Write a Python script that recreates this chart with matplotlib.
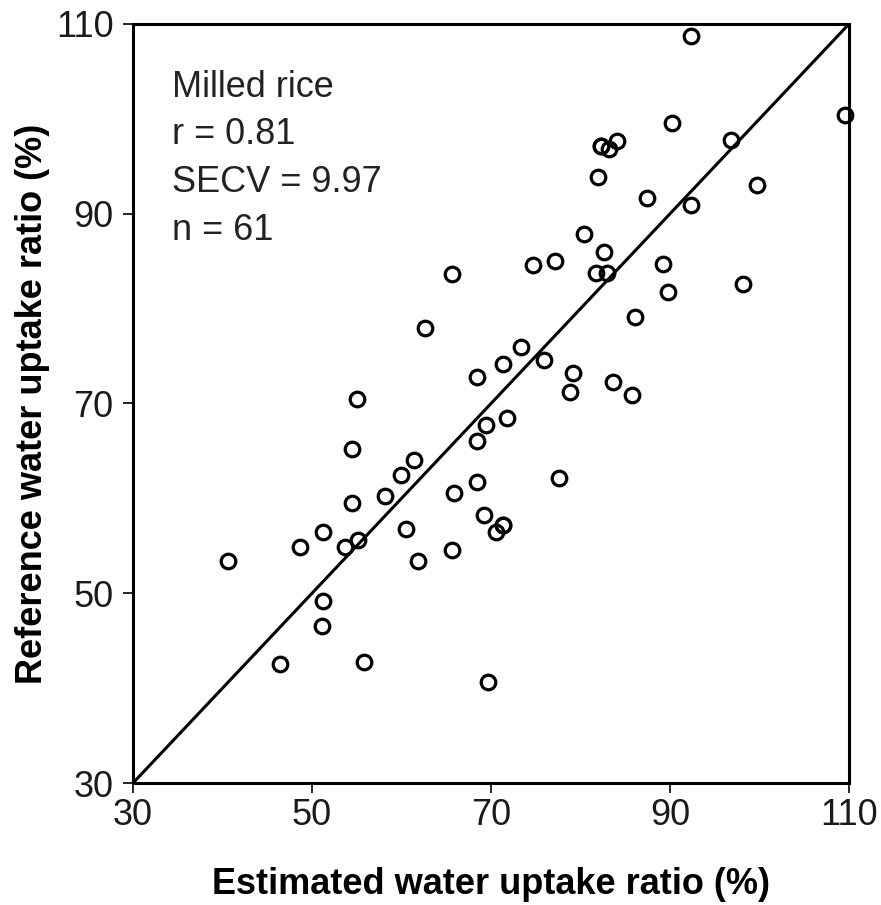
#!/usr/bin/env python3
#
# Scatter of estimated vs reference water uptake ratio for milled rice,
# with the 1:1 line.
#
import matplotlib
matplotlib.use('Agg')
import matplotlib.pyplot as plt

plt.rcParams['font.family'] = ['Liberation Sans', 'DejaVu Sans']

# Estimated (x) and reference (y) water uptake ratio, %
# (two samples sit exactly on top of others, hence n = 61)
estimated = [
    40.6, 46.4, 48.7, 51.2, 51.2, 51.1, 53.7, 54.5, 54.5, 55.0,
    55.1, 55.8, 58.1, 59.9, 60.5, 61.8, 61.4, 65.6, 65.9, 68.4,
    68.4, 69.4, 69.2, 69.7, 71.8, 77.6, 71.3, 70.6, 65.6, 62.6,
    68.4, 71.3, 73.4, 75.9, 79.2, 78.8, 83.6, 85.7, 86.1, 89.8,
    98.1, 89.2, 81.7, 83.0, 74.7, 77.2, 82.6, 80.4, 92.3, 87.4,
    99.7, 82.0, 82.3, 83.2, 84.1, 96.8, 90.2, 92.3, 109.6, 82.3,
    71.3,
]
reference = [
    53.4, 42.5, 54.9, 56.5, 49.2, 46.6, 54.9, 59.5, 65.2, 70.5,
    55.6, 42.8, 60.2, 62.5, 56.8, 53.4, 64.0, 54.6, 60.6, 61.7,
    66.0, 67.7, 58.2, 40.6, 68.5, 62.1, 57.2, 56.5, 83.7, 78.0,
    72.8, 74.2, 76.0, 74.6, 73.2, 71.2, 72.3, 70.9, 79.1, 81.8,
    82.6, 84.7, 83.8, 83.8, 84.6, 85.0, 86.0, 87.9, 90.9, 91.7,
    93.0, 93.9, 97.1, 96.8, 97.7, 97.8, 99.6, 108.7, 100.4, 97.1,
    57.2,
]

ticks = [30, 50, 70, 90, 110]
lo, hi = 30, 110

stats = 'Milled rice\nr = 0.81\nSECV = 9.97\nn = 61'

fig = plt.figure(figsize=(8.81, 9.05), dpi=100)
ax = fig.add_axes([0.151, 0.1348, 0.8127, 0.8387])

ax.plot([lo, hi], [lo, hi], color='black', linewidth=2.2, zorder=2)
ax.plot(estimated, reference, linestyle='none', marker='o', markersize=10.5,
        markerfacecolor='none', markeredgecolor='black',
        markeredgewidth=2.3, zorder=3, clip_on=False)

ax.set_xlim(lo, hi)
ax.set_ylim(lo, hi)
ax.set_xticks(ticks)
ax.set_yticks(ticks)
ax.tick_params(direction='out', length=7, width=1.2, labelsize=26,
               colors='black', labelcolor='#1a1a1a')
ax.tick_params(axis='y', pad=7)
ax.tick_params(axis='x', pad=4)

for side in ax.spines.values():
    side.set_linewidth(2.2)

ax.set_xlabel('Estimated water uptake ratio (%)', fontsize=26,
              fontweight='bold', labelpad=24)
ax.set_ylabel('Reference water uptake ratio (%)', fontsize=26,
              fontweight='bold', labelpad=4)

ax.text(0.054, 0.94, stats, transform=ax.transAxes, fontsize=26,
        color='#222222', va='top', ha='left', linespacing=1.48)

plt.savefig('out.png', dpi=100)
plt.close(fig)
